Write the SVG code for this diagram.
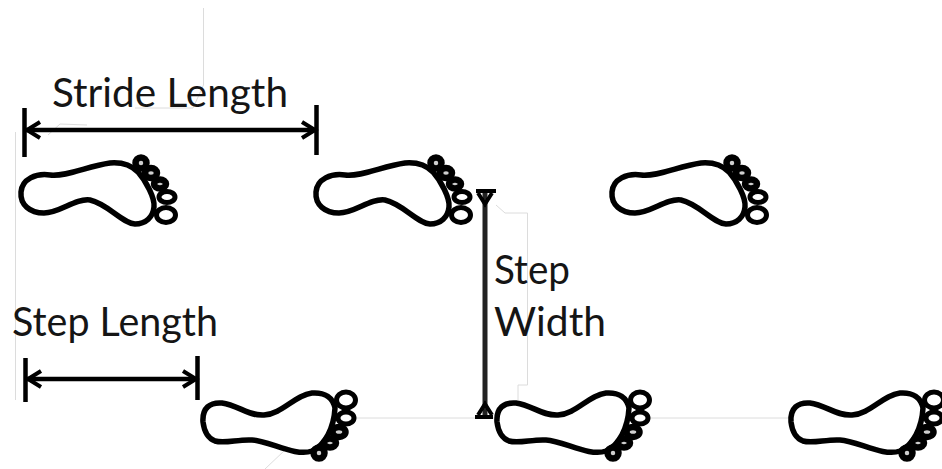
<svg xmlns="http://www.w3.org/2000/svg" width="942" height="469" viewBox="0 0 942 469">
<style>
.bg{fill:#fff}
.ft{fill:#fff;stroke:#000;stroke-width:5.500;stroke-linejoin:round}
.toe{fill:#fff;stroke:#000;stroke-width:5}
.toes{fill:#cfcfcf;stroke:#000;stroke-width:6.500}
.t{font-family:"Lato","Open Sans",sans-serif;font-size:40px;fill:#151515}
.dim{fill:none;stroke:#000;stroke-width:4.500}
.dimv{fill:none;stroke:#222;stroke-width:5}
.head{fill:none;stroke:#000;stroke-width:4}
.faint{fill:none;stroke:#dcdcdc;stroke-width:1}
</style>
<defs>
<filter id="soft" x="-5%" y="-5%" width="110%" height="110%"><feGaussianBlur stdDeviation="0.6"/></filter>
<g id="footTop">
<path class="ft" d="M21,192 C22,179 36,173 50,175 C66,177 88,166 110,163 C122,162 131,165 138,172 C146,181 155,198 154,207 C153,217 146,224 135,224 C122,223 108,204 90,200 C75,198 60,213 44,213 C30,213 20,205 21,192Z"/>
<ellipse class="toes" cx="141" cy="163" rx="5.500" ry="5.500"/>
<ellipse class="toes" cx="151" cy="173" rx="6" ry="5"/>
<ellipse class="toes" cx="160" cy="184" rx="6" ry="4.500"/>
<ellipse class="toe" cx="167" cy="197" rx="8" ry="5.500"/>
<ellipse class="toe" cx="166" cy="215" rx="9.500" ry="7.500"/>
</g>
<g id="footBottom">
<path class="ft" d="M203,422 C202,408 210,402 222,403 C238,405 248,416 264,415 C282,414 295,395 312,393 C325,392 333,398 335,408 C334,428 325,445 312,451 C295,457 270,441 252,440 C238,439 225,444 215,441 C207,438 204,430 203,422Z"/>
<ellipse class="toes" cx="319" cy="453" rx="5.500" ry="5.500"/>
<ellipse class="toes" cx="330" cy="443" rx="6" ry="4.500"/>
<ellipse class="toes" cx="339" cy="432" rx="6.500" ry="5"/>
<ellipse class="toe" cx="346" cy="418" rx="8" ry="6"/>
<ellipse class="toe" cx="346" cy="400" rx="9.500" ry="8"/>
</g>
</defs>
<rect class="bg" width="942" height="469"/>
<g id="faint-lines">
<path class="faint" d="M15.500,132V400M203.500,8V85L193,108H135M87,125L60,124L48,135"/>
<path class="faint" d="M496,205L505,213H527.500V385H518V400"/>
<path class="faint" d="M340,418H790M285,450L265,469"/>
</g>
<g id="foot-top-1" filter="url(#soft)"><use href="#footTop"/></g>
<g id="foot-top-2" filter="url(#soft)"><use href="#footTop" x="295"/></g>
<g id="foot-top-3" filter="url(#soft)"><use href="#footTop" x="591"/></g>
<g id="foot-bottom-1" filter="url(#soft)"><use href="#footBottom"/></g>
<g id="foot-bottom-2" filter="url(#soft)"><use href="#footBottom" x="294"/></g>
<g id="foot-bottom-3" filter="url(#soft)"><use href="#footBottom" x="588"/></g>
<g id="connectors" filter="url(#soft)">
<path class="dim" d="M24.500,108V157M316.500,105V155M26,130H315"/>
<path class="head" d="M40,122L27,130L40,138M302,122L315,130L302,138"/>
<path class="dim" d="M25.500,358V402M197.500,356V400M27,379H196"/>
<path class="head" d="M41,371L28,379L41,387M183,371L196,379L183,387"/>
<path class="dimv" d="M485,193V415"/>
<path class="head" d="M476,191H496M475,417H493M478,193L485,204L492,193M478,415L485,404L492,415"/>
</g>
<g id="labels">
<text class="t" x="52" y="107" textLength="236" lengthAdjust="spacingAndGlyphs">Stride Length</text>
<text class="t" x="12" y="336" textLength="206" lengthAdjust="spacingAndGlyphs">Step Length</text>
<text class="t" x="494" y="284" textLength="76" lengthAdjust="spacingAndGlyphs">Step</text>
<text class="t" x="494" y="336" textLength="112" lengthAdjust="spacingAndGlyphs">Width</text>
</g>
</svg>
